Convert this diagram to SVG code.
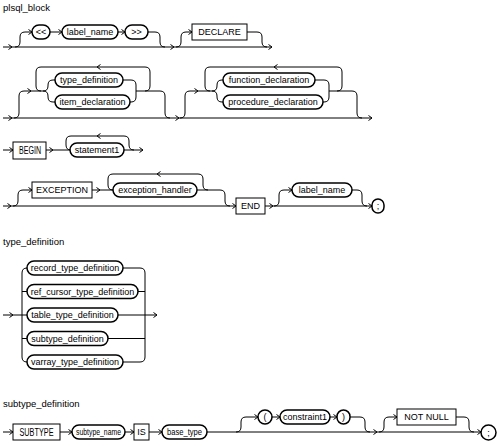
<svg xmlns="http://www.w3.org/2000/svg" xmlns:xlink="http://www.w3.org/1999/xlink" width="499" height="446" viewBox="0 0 499 446">
<style>
.ln{fill:none;stroke:#000;stroke-width:1}
.ov{fill:#fff;stroke:#000;stroke-width:1.5}
.bx{fill:#fff;stroke:#000;stroke-width:1}
.t{font-family:"Liberation Sans",Arial,sans-serif;font-size:9px;fill:#000;text-anchor:middle}
.tn{font-size:10px}
.ti{font-family:"Liberation Sans",Arial,sans-serif;font-size:9.5px;fill:#000}
</style>
<defs>
<path id="ar" d="M-3.5,-2.5 L0,0 L-3.5,2.5" fill="none" stroke="#000" stroke-width="1"/>
<path id="al" d="M3.5,-2.5 L0,0 L3.5,2.5" fill="none" stroke="#000" stroke-width="1"/>
</defs>
<rect width="499" height="446" fill="#fff"/>

<g id="titles">
<text class="ti" x="3" y="11">plsql_block</text>
<text class="ti" x="3" y="245">type_definition</text>
<text class="ti" x="3" y="407">subtype_definition</text>
</g>

<g id="connectors">
<!-- row 1 -->
<path class="ln" d="M3,47 H272"/>
<path class="ln" d="M15,47 Q20,47 20,42 V37 Q20,32 25,32 H32"/>
<path class="ln" d="M50,32 H62 M118,32 H125"/>
<path class="ln" d="M148,32 H155 Q160,32 160,37 V42 Q160,47 165,47"/>
<path class="ln" d="M176,47 Q181,47 181,42 V37 Q181,32 186,32 H192"/>
<path class="ln" d="M247,32 H257 Q262,32 262,37 V42 Q262,47 267,47"/>
<use href="#ar" x="12" y="47"/><use href="#ar" x="32" y="32"/><use href="#ar" x="62" y="32"/><use href="#ar" x="125" y="32"/>
<use href="#ar" x="174" y="47"/><use href="#ar" x="192" y="32"/><use href="#ar" x="272" y="47"/>
<!-- row 2 -->
<path class="ln" d="M3,118 H372"/>
<path class="ln" d="M14,118 Q19,118 19,113 V96 Q19,91 24,91 H43"/>
<path class="ln" d="M43,91 Q48,91 48,86 V85 Q48,80 53,80 H55 M43,91 Q48,91 48,96 V97 Q48,102 53,102 H55"/>
<path class="ln" d="M123,80 H131 Q136,80 136,85 V97 Q136,102 131,102 H130"/>
<path class="ln" d="M145,91 Q150,91 150,86 V72 Q150,67 145,67 H41 Q36,67 36,72 V86 Q36,91 41,91"/>
<path class="ln" d="M136,91 H160 Q165,91 165,96 V113 Q165,118 170,118"/>
<path class="ln" d="M180,118 Q185,118 185,113 V96 Q185,91 190,91 H212"/>
<path class="ln" d="M212,91 Q217,91 217,86 V85 Q217,80 222,80 H223 M212,91 Q217,91 217,96 V97 Q217,102 222,102 H223"/>
<path class="ln" d="M315,80 H324 Q329,80 329,85 V97 Q329,102 324,102 H323"/>
<path class="ln" d="M337,91 Q342,91 342,86 V72 Q342,67 337,67 H210 Q205,67 205,72 V86 Q205,91 210,91"/>
<path class="ln" d="M329,91 H352 Q357,91 357,96 V113 Q357,118 362,118"/>
<use href="#ar" x="12" y="118"/><use href="#ar" x="31" y="91"/><use href="#al" x="97" y="67"/>
<use href="#ar" x="179" y="118"/><use href="#ar" x="198" y="91"/><use href="#al" x="274" y="67"/><use href="#ar" x="372" y="118"/>
<!-- row 3 -->
<path class="ln" d="M3,150 H13 M46,150 H70 M124,150 H143"/>
<path class="ln" d="M71,150 Q66,150 66,145 V141 Q66,136 71,136 H124 Q129,136 129,141 V145 Q129,150 134,150"/>
<use href="#ar" x="13" y="150"/><use href="#ar" x="53" y="150"/><use href="#al" x="97" y="136"/><use href="#ar" x="143" y="150"/>
<!-- row 4 -->
<path class="ln" d="M3,206 H236 M265,206 H372"/>
<path class="ln" d="M13,206 Q18,206 18,201 V195 Q18,190 23,190 H32"/>
<path class="ln" d="M92,190 H113"/>
<path class="ln" d="M113,190 Q108,190 108,185 V179 Q108,174 113,174 H198 Q203,174 203,179 V185 Q203,190 208,190"/>
<path class="ln" d="M197,190 H220 Q225,190 225,195 V201 Q225,206 230,206"/>
<path class="ln" d="M274,206 Q279,206 279,201 V195 Q279,190 284,190 H292"/>
<path class="ln" d="M352,190 H357 Q362,190 362,195 V201 Q362,206 367,206"/>
<use href="#ar" x="11" y="206"/><use href="#ar" x="32" y="190"/><use href="#ar" x="100" y="190"/><use href="#al" x="157" y="174"/>
<use href="#ar" x="236" y="206"/><use href="#ar" x="273" y="206"/><use href="#ar" x="292" y="190"/><use href="#ar" x="372" y="206"/>
<!-- type_definition -->
<path class="ln" d="M3,315 H27"/>
<path class="ln" d="M27,268 Q22,268 22,273 V357 Q22,362 27,362 M22,291.5 H27 M22,338.5 H27"/>
<path class="ln" d="M123,268 H140 Q145,268 145,273 V357 Q145,362 140,362 H123 M138,291.5 H145 M118,315 H157 M108,338.5 H145"/>
<use href="#ar" x="13" y="315"/><use href="#ar" x="157" y="315"/>
<!-- subtype_definition -->
<path class="ln" d="M3,432 H13 M60,432 H72 M125,432 H134 M149,432 H162 M207,432 H482"/>
<path class="ln" d="M236,432 Q241,432 241,427 V422 Q241,417 246,417 H258 M272,417 H280 M330,417 H337"/>
<path class="ln" d="M350,417 H360 Q365,417 365,422 V427 Q365,432 370,432"/>
<path class="ln" d="M379,432 Q384,432 384,427 V422 Q384,417 389,417 H397"/>
<path class="ln" d="M456,417 H464 Q469,417 469,422 V427 Q469,432 474,432"/>
<use href="#ar" x="13" y="432"/><use href="#ar" x="72" y="432"/><use href="#ar" x="134" y="432"/><use href="#ar" x="162" y="432"/>
<use href="#ar" x="258" y="417"/><use href="#ar" x="280" y="417"/><use href="#ar" x="337" y="417"/>
<use href="#ar" x="377" y="432"/><use href="#ar" x="397" y="417"/><use href="#ar" x="481" y="432"/>
</g>

<!-- row 1 nodes -->
<g id="n_lt"><rect class="ov" x="32" y="25" width="18" height="14" rx="7"/><text class="t" x="41" y="35">&lt;&lt;</text></g>
<g id="n_label1"><rect class="ov" x="62" y="25" width="56" height="14" rx="7"/><text class="t" x="90" y="35">label_name</text></g>
<g id="n_gt"><rect class="ov" x="125" y="25" width="23" height="14" rx="7"/><text class="t" x="136.5" y="35">&gt;&gt;</text></g>
<g id="n_declare"><rect class="bx" x="192" y="24" width="55" height="16"/><text class="t" x="219.5" y="35">DECLARE</text></g>
<!-- row 2 nodes -->
<g id="n_typedef"><rect class="ov" x="55" y="73" width="68" height="14" rx="7"/><text class="t" x="89" y="83">type_definition</text></g>
<g id="n_itemdecl"><rect class="ov" x="55" y="95" width="75" height="14" rx="7"/><text class="t" x="92.5" y="105">item_declaration</text></g>
<g id="n_funcdecl"><rect class="ov" x="223" y="73" width="92" height="14" rx="7"/><text class="t" x="269" y="83">function_declaration</text></g>
<g id="n_procdecl"><rect class="ov" x="223" y="95" width="100" height="14" rx="7"/><text class="t" x="273" y="105">procedure_declaration</text></g>
<!-- row 3 nodes -->
<g id="n_begin"><rect class="bx" x="13" y="142" width="33" height="17"/><text class="t tn" x="30" y="154" textLength="22" lengthAdjust="spacingAndGlyphs">BEGIN</text></g>
<g id="n_statement"><rect class="ov" x="70" y="143" width="54" height="14" rx="7"/><text class="t" x="97" y="153">statement1</text></g>
<!-- row 4 nodes -->
<g id="n_exception"><rect class="bx" x="32" y="182" width="60" height="16"/><text class="t" x="62" y="193">EXCEPTION</text></g>
<g id="n_handler"><rect class="ov" x="113" y="183" width="84" height="14" rx="7"/><text class="t" x="155" y="193">exception_handler</text></g>
<g id="n_end"><rect class="bx" x="236" y="198" width="29" height="16"/><text class="t" x="250.5" y="209">END</text></g>
<g id="n_label2"><rect class="ov" x="292" y="183" width="60" height="14" rx="7"/><text class="t" x="322" y="193">label_name</text></g>
<g id="n_semi1"><rect class="ov" x="372" y="199" width="12" height="14" rx="6"/><text class="t" x="378" y="209">;</text></g>
<!-- type_definition nodes -->
<g id="n_record"><rect class="ov" x="27" y="261" width="96" height="14" rx="7"/><text class="t" x="75" y="271">record_type_definition</text></g>
<g id="n_refcursor"><rect class="ov" x="27" y="284.5" width="111" height="14" rx="7"/><text class="t" x="82.5" y="294.5">ref_cursor_type_definition</text></g>
<g id="n_table"><rect class="ov" x="27" y="308" width="91" height="14" rx="7"/><text class="t" x="72.5" y="318">table_type_definition</text></g>
<g id="n_subtype"><rect class="ov" x="27" y="331.5" width="81" height="14" rx="7"/><text class="t" x="67.5" y="341.5">subtype_definition</text></g>
<g id="n_varray"><rect class="ov" x="27" y="355" width="96" height="14" rx="7"/><text class="t" x="75" y="365">varray_type_definition</text></g>
<!-- subtype_definition nodes -->
<g id="n_SUBTYPE"><rect class="bx" x="13" y="424" width="47" height="16"/><text class="t tn" x="36.5" y="435.5" textLength="34" lengthAdjust="spacingAndGlyphs">SUBTYPE</text></g>
<g id="n_subtypename"><rect class="ov" x="72" y="425" width="53" height="14" rx="7"/><text class="t" x="98.5" y="435" textLength="45" lengthAdjust="spacingAndGlyphs">subtype_name</text></g>
<g id="n_is"><rect class="bx" x="134" y="424" width="15" height="16"/><text class="t" x="141.5" y="435">IS</text></g>
<g id="n_basetype"><rect class="ov" x="162" y="425" width="45" height="14" rx="7"/><text class="t" x="184.5" y="435" textLength="35" lengthAdjust="spacingAndGlyphs">base_type</text></g>
<g id="n_lparen"><rect class="ov" x="258" y="410" width="14" height="14" rx="7"/><text class="t" x="265" y="420">(</text></g>
<g id="n_constraint"><rect class="ov" x="280" y="410" width="50" height="14" rx="7"/><text class="t" x="305" y="420">constraint1</text></g>
<g id="n_rparen"><rect class="ov" x="337" y="410" width="13" height="14" rx="6.5"/><text class="t" x="343.5" y="420">)</text></g>
<g id="n_notnull"><rect class="bx" x="397" y="409" width="59" height="16"/><text class="t" x="426.5" y="420">NOT NULL</text></g>
<g id="n_semi2"><rect class="ov" x="481" y="425" width="15" height="15" rx="7.5"/><text class="t" x="488.5" y="435.5">;</text></g>
</svg>
